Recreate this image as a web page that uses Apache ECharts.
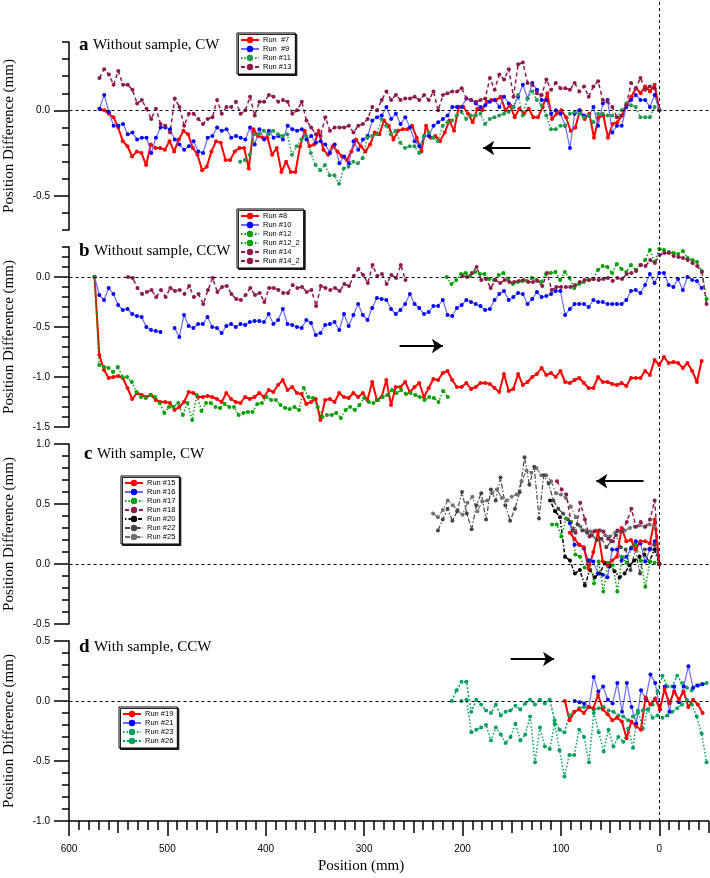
<!DOCTYPE html>
<html><head><meta charset="utf-8">
<script src="https://cdn.jsdelivr.net/npm/echarts@6/dist/echarts.min.js"></script>
<style>html,body{margin:0;padding:0;background:#fff}#c{width:710px;height:878px}</style>
</head><body><div id="c"></div>
<script>
// ---------- DATA (positions in mm, sampled evenly between the given start/end) ----------
const xTickLabels = [600, 500, 400, 300, 200, 100, 0];

// Panel a: Without sample, CW
const a_run7_range = [569, 0];
const a_run7 = [0.01,0.00,-0.02,-0.04,-0.10,-0.18,-0.21,-0.27,-0.24,-0.25,-0.32,-0.20,-0.22,-0.22,-0.23,-0.18,-0.24,-0.17,-0.12,-0.14,-0.22,-0.26,-0.35,-0.33,-0.24,-0.18,-0.19,-0.29,-0.29,-0.24,-0.22,-0.22,-0.34,-0.11,-0.15,-0.16,-0.16,-0.26,-0.22,-0.36,-0.30,-0.36,-0.36,-0.21,-0.12,-0.21,-0.20,-0.12,-0.23,-0.26,-0.21,-0.24,-0.27,-0.29,-0.24,-0.17,
 -0.21,-0.24,-0.20,-0.13,-0.14,-0.06,-0.09,-0.17,-0.12,-0.11,-0.11,-0.09,-0.16,-0.24,-0.09,-0.16,-0.15,-0.18,-0.13,-0.06,-0.12,0.02,0.02,-0.02,-0.07,0.01,0.00,0.05,0.06,0.06,0.08,0.00,0.03,-0.04,0.01,-0.02,0.01,-0.04,-0.04,0.02,0.10,-0.05,-0.02,0.00,-0.04,-0.12,-0.10,0.00,-0.05,-0.02,-0.16,-0.04,-0.03,-0.16,-0.08,-0.07,-0.03,0.03,0.08,0.13,0.10,0.14,0.11,0.15,0.00];
const a_run9_range = [569, 0];
const a_run9 = [0.01,0.09,-0.01,-0.09,-0.09,-0.08,-0.14,-0.13,-0.17,-0.16,-0.16,-0.25,-0.16,-0.10,-0.10,-0.11,-0.17,-0.20,-0.23,-0.21,-0.18,-0.24,-0.25,-0.16,-0.15,-0.10,-0.12,-0.11,-0.16,-0.15,-0.16,-0.17,-0.10,-0.20,-0.11,-0.17,-0.12,-0.16,-0.15,-0.17,-0.09,-0.11,-0.12,-0.11,-0.17,-0.15,-0.19,-0.18,-0.20,-0.25,-0.20,-0.31,-0.27,-0.31,-0.18,-0.23,
 -0.17,-0.15,-0.06,-0.04,-0.03,0.02,-0.05,-0.02,-0.08,-0.04,-0.10,-0.18,-0.21,-0.15,-0.15,-0.09,-0.07,-0.05,-0.03,0.02,0.02,0.02,0.07,0.06,0.04,0.02,0.03,0.05,0.06,0.02,0.08,0.04,0.02,0.08,0.15,0.07,0.16,0.12,0.06,0.06,-0.02,0.00,-0.02,-0.09,-0.22,-0.02,0.00,-0.03,-0.03,0.02,-0.09,0.04,0.06,-0.13,-0.09,-0.09,0.02,0.06,0.09,0.06,0.06,0.02,0.09,0.00];
const a_run11_range = [426, 0];
const a_run11 = [-0.30,-0.29,-0.26,-0.14,-0.14,-0.12,-0.14,-0.12,-0.14,-0.15,-0.14,-0.26,-0.21,-0.17,-0.15,-0.25,-0.32,-0.35,-0.32,-0.38,-0.38,-0.43,-0.34,-0.33,-0.30,-0.31,
 -0.28,-0.16,-0.15,-0.14,-0.05,-0.09,-0.14,-0.12,-0.19,-0.22,-0.21,-0.21,-0.25,-0.15,-0.13,-0.16,-0.18,-0.09,-0.07,-0.06,-0.03,-0.01,-0.05,-0.03,-0.03,-0.02,-0.08,-0.05,-0.04,-0.03,-0.02,-0.01,0.02,0.09,-0.03,0.07,0.11,0.06,0.03,-0.03,-0.11,-0.11,-0.09,-0.09,-0.02,-0.01,-0.02,-0.04,-0.03,-0.07,-0.02,-0.02,-0.03,-0.03,-0.04,0.00,0.04,0.03,0.02,-0.04,-0.04,-0.04,0.02,0.00];
const a_run13_range = [569, 0];
const a_run13 = [0.19,0.24,0.21,0.15,0.23,0.15,0.15,0.12,0.04,0.06,0.01,-0.05,0.01,-0.08,-0.09,-0.13,0.07,0.02,-0.09,-0.02,-0.02,-0.05,-0.08,-0.05,-0.04,0.06,-0.02,0.02,0.02,0.05,-0.02,0.00,0.08,-0.03,0.05,0.05,0.09,0.08,0.05,0.06,0.05,-0.02,0.00,0.05,-0.06,-0.10,-0.14,-0.15,-0.04,-0.12,-0.10,-0.10,-0.10,-0.09,-0.13,-0.09,
 -0.08,-0.05,0.02,0.00,0.06,0.11,0.06,0.09,0.06,0.07,0.07,0.08,0.06,0.09,0.06,0.11,0.00,0.09,0.10,0.11,0.11,0.13,0.07,0.06,0.05,0.06,0.07,0.19,0.12,0.21,0.18,0.24,0.08,0.27,0.28,0.16,0.15,0.10,0.09,0.18,0.12,0.16,0.13,0.13,0.12,0.16,0.11,0.14,0.08,0.14,0.17,0.06,0.05,0.02,-0.04,-0.03,0.03,0.16,0.13,0.19,0.12,0.14,0.13,0.00];

// Panel b: Without sample, CCW
const b_run8_range = [574, -43];
const b_run8 = [0,-0.78,-0.93,-1.01,-1.00,-0.99,-1.01,-1.11,-1.22,-1.16,-1.18,-1.20,-1.18,-1.23,-1.25,-1.25,-1.26,-1.33,-1.30,-1.25,-1.15,-1.16,-1.20,-1.20,-1.19,-1.20,-1.22,-1.25,-1.16,-1.22,-1.25,-1.26,-1.20,-1.22,-1.20,-1.16,-1.20,-1.13,-1.15,-1.08,-1.03,-1.13,-1.10,-1.16,-1.17,-1.27,-1.25,-1.22,-1.43,-1.23,-1.22,-1.25,-1.16,-1.20,-1.21,-1.16,-1.20,
 -1.16,-1.23,-1.05,-1.23,-1.20,-1.03,-1.28,-1.10,-1.10,-1.05,-1.15,-1.10,-1.06,-1.20,-1.11,-1.02,-1.03,-0.96,-0.94,-1.03,-1.10,-1.10,-1.06,-1.12,-1.10,-1.06,-1.06,-1.07,-1.11,-1.15,-0.97,-1.14,-1.12,-0.97,-1.08,-1.05,-1.00,-0.97,-0.91,-0.98,-0.96,-1.00,-0.94,-1.05,-1.06,-1.03,-1.01,-1.06,-1.11,-1.11,-1.00,-1.05,-1.05,-1.07,-1.08,-1.06,-1.09,-1.01,-1.01,-1.01,-0.94,-0.98,-0.83,-0.88,-0.80,-0.86,-0.85,-0.86,-0.91,-0.86,-0.94,-1.05,-0.84];
const b_run10_range = [574, -43];
const b_run10 = [0,-0.18,-0.23,-0.11,-0.17,-0.28,-0.33,-0.32,-0.37,-0.39,-0.40,-0.50,-0.53,-0.54,-0.55,null,null,-0.51,-0.60,-0.38,-0.49,-0.51,-0.47,-0.47,-0.40,-0.50,-0.51,-0.56,-0.49,-0.47,-0.50,-0.47,-0.48,-0.45,-0.44,-0.44,-0.45,-0.37,-0.47,-0.43,-0.32,-0.47,-0.48,-0.50,-0.51,-0.43,-0.46,-0.58,-0.56,-0.48,-0.47,-0.45,-0.53,-0.37,-0.49,-0.38,-0.27,
 -0.38,-0.43,-0.31,-0.21,-0.22,-0.23,-0.32,-0.37,-0.33,-0.27,-0.17,-0.27,-0.31,-0.37,-0.35,-0.29,-0.29,-0.23,-0.38,-0.39,-0.31,-0.28,-0.23,-0.25,-0.27,-0.29,-0.33,-0.32,-0.23,-0.17,-0.14,-0.23,-0.20,-0.16,-0.17,-0.27,-0.22,-0.15,-0.20,-0.19,-0.17,-0.14,-0.14,-0.38,-0.32,-0.27,-0.27,-0.27,-0.30,-0.23,-0.25,-0.25,-0.27,-0.27,-0.27,-0.27,-0.23,-0.14,-0.13,-0.16,-0.08,0.03,-0.06,0.04,0.04,-0.08,-0.10,-0.02,-0.13,0.00,-0.03,-0.04,-0.11];
const b_run12_range = [574, 215];
const b_run12 = [0,-0.88,-0.90,-0.91,-0.95,-0.90,-1.00,-1.00,-1.05,-1.15,-1.20,-1.21,-1.18,-1.20,-1.26,-1.36,-1.30,-1.30,-1.26,-1.38,-1.26,-1.43,-1.18,-1.34,-1.26,-1.26,-1.30,-1.31,-1.27,-1.30,-1.30,-1.38,-1.36,-1.35,-1.35,-1.27,-1.26,-1.20,-1.23,-1.23,-1.28,-1.31,-1.32,-1.30,-1.33,-1.11,-1.20,-1.21,-1.30,-1.40,-1.38,-1.38,-1.36,-1.41,-1.33,-1.30,-1.33,-1.28,
 -1.21,-1.25,-1.26,-1.23,-1.20,-1.18,-1.13,-1.16,-1.13,-1.17,-1.16,-1.18,-1.20,-1.23,-1.20,-1.21,-1.25,-1.14,-1.20];
const b_run12_2_range = [216, -48];
const b_run12_2 = [0.00,-0.07,-0.03,0.03,0.04,0.01,0.05,0.03,0.03,-0.02,-0.03,0.02,0.04,-0.02,-0.07,-0.05,-0.04,-0.04,-0.01,-0.03,-0.05,0.03,0.04,0.05,-0.03,0.05,-0.01,-0.11,-0.07,-0.05,-0.03,-0.02,0.07,0.11,0.10,0.04,0.13,0.08,0.05,0.12,0.07,0.12,0.17,0.27,0.15,0.28,0.27,0.25,0.24,0.23,0.26,0.19,0.17,0.15,0.06,-0.22];
const b_run14_range = [540, 258];
const b_run14 = [0.00,-0.01,-0.11,-0.17,-0.15,-0.13,-0.20,-0.13,-0.20,-0.11,-0.14,-0.13,-0.17,-0.09,-0.20,-0.17,-0.27,-0.13,-0.01,-0.15,-0.10,-0.09,-0.17,-0.22,-0.23,-0.18,-0.11,-0.18,-0.16,-0.25,-0.11,-0.11,-0.13,-0.16,-0.16,-0.08,-0.11,-0.10,-0.15,-0.13,-0.29,-0.09,-0.11,-0.13,-0.11,-0.14,-0.07,-0.09,0.01,0.08,0.02,-0.06,0.12,0.01,0.03,-0.07,0.02,-0.01,0.12,-0.03];
const b_run14_2_range = [200, -48];
const b_run14_2 = [0.01,0.00,0.04,0.10,-0.03,-0.02,-0.11,-0.03,-0.06,-0.03,-0.05,-0.05,-0.04,-0.03,-0.05,-0.05,-0.04,-0.09,0.04,-0.13,-0.10,-0.10,-0.10,-0.10,-0.08,-0.05,-0.03,-0.03,-0.02,-0.03,-0.02,-0.01,-0.04,-0.01,-0.02,0.03,0.04,0.06,0.12,0.11,0.17,0.14,0.22,0.24,0.24,0.21,0.20,0.19,0.17,0.14,0.11,0.05,-0.27];

// Panel c: With sample, CW
const c_run15_range = [91, 0];
const c_run15 = [0.26,0.21,0.16,0.14,-0.04,0.10,0.27,0.02,-0.01,0.03,0.06,0.30,0.19,0.20,0.12,0.19,0.19,0.17,0.37,0.00];
const c_run16_range = [91, 0];
const c_run16 = [0.34,0.16,0.16,0.13,0.03,0.02,-0.08,-0.09,-0.11,0.12,0.12,0.03,0.06,0.13,0.19,0.17,0.02,0.12,0.19,0.00];
const c_run17_range = [109, 0];
const c_run17 = [0.33,0.33,0.23,0.38,0.35,0.08,0.06,-0.03,0.03,-0.16,0.02,-0.23,0.01,-0.01,-0.23,0.06,0.01,0.14,0.16,0.03,-0.19,0.02,0.01,0.00];
const c_run18_range = [104, 0];
const c_run18 = [0.69,0.62,0.58,0.35,0.26,0.51,0.37,0.23,0.27,0.28,0.27,0.21,0.19,0.28,0.27,0.35,0.46,0.31,0.35,0.31,0.37,0.53,0.00];
const c_run20_range = [111, 0];
const c_run20 = [0.53,0.44,0.39,0.06,0.03,-0.08,-0.05,-0.18,-0.05,-0.11,-0.08,0.01,-0.02,-0.06,-0.11,-0.08,-0.01,0.03,0.06,0.08,0.02,0.12,0.00];
const c_run22_range = [225, 0];
const c_run22 = [0.28,0.37,0.46,0.36,0.44,0.60,0.42,0.29,0.49,0.59,0.37,0.62,0.53,0.72,0.49,0.36,0.46,0.60,0.89,0.66,0.81,0.38,0.74,0.67,0.53,0.46,0.42,0.37,0.28,0.33,0.28,0.26,0.24,0.20,0.21,0.14,0.19,0.24,0.14,0.12,-0.05,0.12,-0.08,0.12,0.13,0.16,0.00];
const c_run25_range = [230, 0];
const c_run25 = [0.42,0.39,0.45,0.53,0.49,0.45,0.41,0.51,0.56,0.44,0.52,0.53,0.59,0.62,0.55,0.53,0.56,0.58,0.69,0.78,0.76,0.80,0.74,0.74,0.69,0.59,0.58,0.55,0.48,0.39,0.31,0.28,0.27,0.28,0.28,0.24,0.23,0.26,0.27,0.28,0.30,0.31,0.32,0.31,0.33,0.31,0.00];

// Panel d: With sample, CCW
const d_run19_range = [96, -44];
const d_run19 = [0,-0.16,-0.09,-0.07,-0.10,-0.05,-0.06,0.05,-0.07,-0.11,-0.16,-0.14,-0.17,-0.31,-0.17,-0.21,-0.24,0.03,-0.03,0.02,-0.07,0.10,-0.02,0.08,0.01,0.08,-0.05,0.01,-0.03,-0.10];
const d_run21_range = [86, -44];
const d_run21 = [0,-0.01,-0.02,-0.05,0.20,0.08,0.12,0.01,-0.02,0.15,-0.09,0.15,-0.05,-0.19,0.09,0.02,0.22,0.15,-0.07,0.12,-0.09,0.12,-0.01,0.12,0.29,0.11,0.13,0.14];
const d_run23_range = [201, -48];
const d_run23 = [0.00,0.01,-0.26,-0.24,-0.22,-0.20,-0.33,-0.22,-0.28,-0.35,-0.30,-0.19,-0.33,-0.28,-0.13,-0.51,-0.22,-0.38,-0.40,-0.19,-0.41,-0.63,-0.45,-0.45,-0.24,-0.30,-0.51,-0.10,-0.26,-0.42,-0.24,-0.38,-0.30,-0.34,-0.23,-0.39,-0.08,-0.23,-0.07,-0.14,-0.12,-0.14,-0.12,-0.09,-0.06,-0.03,0.01,-0.03,-0.13,-0.27,-0.51];
const d_run26_range = [211, -48];
const d_run26 = [0,0.09,0.16,0.16,-0.09,0.01,-0.03,-0.08,-0.10,-0.03,-0.12,-0.09,-0.08,-0.04,-0.07,-0.02,0.01,-0.03,0.01,-0.02,0.01,-0.16,-0.24,-0.26,-0.12,-0.09,-0.06,-0.05,-0.05,-0.07,-0.06,-0.05,-0.08,-0.09,-0.12,-0.13,-0.16,-0.13,-0.10,-0.08,-0.07,-0.03,0.08,0.21,0.12,0.12,0.21,0.15,0.11,0.09,0.13,0.14,0.15];

// Direction arrows [tailX, headX, y]
const arrowA = [131, 179, -0.22];
const arrowB = [264, 220, -0.69];
const arrowC = [16, 64, 0.69];
const arrowD = [151, 107, 0.35];

// ---------- CHART ----------
const SERIF = 'Liberation Serif', SANS = 'Liberation Sans';
const RED = '#ff0000', BLUE = '#0000ff', BLUEL = '#6a6aff', MAR = '#8e1a4c';
function pts(range, ys) {
  const n = ys.length;
  return ys.map((y, i) => [range[0] + (range[1] - range[0]) * i / (n - 1), y === null ? '-' : y]);
}
function mk(name, range, ys, g, color, lineColor, width, type) {
  return {
    name, type: 'line', xAxisIndex: g, yAxisIndex: g, data: pts(range, ys),
    symbol: 'circle', symbolSize: 4, showAllSymbol: true, connectNulls: false,
    lineStyle: { color: lineColor || color, width, type },
    itemStyle: { color }, animation: false, silent: true,
    emphasis: { disabled: true }
  };
}
const zeroLine = { silent: true, symbol: 'none', animation: false, label: { show: false },
  lineStyle: { color: '#000', width: 1, type: [3, 3] }, data: [{ yAxis: 0 }] };
function arrowLine(a) {
  return { silent: true, symbol: ['none', 'arrow'], symbolSize: 11, animation: false, label: { show: false },
    lineStyle: { color: '#000', width: 2, type: 'solid' },
    itemStyle: { color: '#000' },
    data: [[{ coord: [a[0], a[2]], symbol: 'none' }, { coord: [a[1], a[2]], symbol: 'arrow', symbolSize: 11 }]] };
}

const DOT = [1.5, 2], DASH = [4, 3], DASHDOT = [5, 2, 1.5, 2], BLACKDOT = [1.5, 2, 4, 2];
const GREEN_A = '#1f9a4e', GREEN_B = '#00a000', GREEN_D = '#00a060';

const series = [
  mk('Run  #7', a_run7_range, a_run7, 0, RED, null, 2, 'solid'),
  mk('Run  #9', a_run9_range, a_run9, 0, BLUE, BLUEL, 1.2, 'solid'),
  mk('Run #11', a_run11_range, a_run11, 0, GREEN_A, null, 1.5, DOT),
  mk('Run #13', a_run13_range, a_run13, 0, MAR, null, 1.5, DASH),
  mk('Run #8', b_run8_range, b_run8, 1, RED, null, 2, 'solid'),
  mk('Run #10', b_run10_range, b_run10, 1, BLUE, BLUEL, 1.2, 'solid'),
  mk('Run #12', b_run12_range, b_run12, 1, GREEN_B, null, 1.5, DOT),
  mk('Run #12_2', b_run12_2_range, b_run12_2, 1, GREEN_B, null, 1.5, DOT),
  mk('Run #14', b_run14_range, b_run14, 1, MAR, null, 1.5, DASH),
  mk('Run #14_2', b_run14_2_range, b_run14_2, 1, MAR, null, 1.5, DASH),
  mk('Run #25', c_run25_range, c_run25, 2, '#707070', null, 1.2, DASHDOT),
  mk('Run #22', c_run22_range, c_run22, 2, '#454545', null, 1.2, DASHDOT),
  mk('Run #20', c_run20_range, c_run20, 2, '#000000', null, 1.5, BLACKDOT),
  mk('Run #18', c_run18_range, c_run18, 2, MAR, null, 1.5, DASH),
  mk('Run #17', c_run17_range, c_run17, 2, GREEN_B, null, 1.5, DOT),
  mk('Run #16', c_run16_range, c_run16, 2, BLUE, BLUEL, 1.2, 'solid'),
  mk('Run #15', c_run15_range, c_run15, 2, RED, null, 2, 'solid'),
  mk('Run #23', d_run23_range, d_run23, 3, GREEN_D, null, 1.5, DOT),
  mk('Run #26', d_run26_range, d_run26, 3, GREEN_D, null, 1.5, [2, 2]),
  mk('Run #21', d_run21_range, d_run21, 3, BLUE, BLUEL, 1.2, 'solid'),
  mk('Run #19', d_run19_range, d_run19, 3, RED, null, 2, 'solid')
];
// zero lines & arrows
series[0].markLine = zeroLine; series[1].markLine = arrowLine(arrowA);
series[4].markLine = zeroLine; series[5].markLine = arrowLine(arrowB);
series[10].markLine = zeroLine; series[11].markLine = arrowLine(arrowC);
series[17].markLine = zeroLine; series[18].markLine = arrowLine(arrowD);
// vertical x = 0 line over the whole figure
series.push({ type: 'line', xAxisIndex: 4, yAxisIndex: 4, data: [], silent: true, animation: false,
  markLine: { silent: true, symbol: 'none', animation: false, label: { show: false },
    lineStyle: { color: '#000', width: 1, type: [3, 3] }, data: [{ xAxis: 0 }] } });

const tickStyle = { color: '#000', width: 1.5 };
const noLine = { show: false, onZero: false };
const xBase = { type: 'value', min: -50, max: 600, inverse: true, splitLine: { show: false }, axisLine: noLine };
const hidX = g => ({ type: 'value', gridIndex: g, min: 0, max: 1, show: false, axisLine: noLine });
const hidY = g => ({ type: 'value', gridIndex: g, min: 0, max: 1, show: false, axisLine: noLine });

// Panels: main y range and the span of the long (0.5) ticks
const panels = [
  { min: -0.7, max: 0.4, top: 42, h: 188, maj: [-0.5, 0] },
  { min: -1.5, max: 0.3, top: 247, h: 180, maj: [-1.5, 0] },
  { min: -0.5, max: 1.0, top: 444, h: 180, maj: [-0.5, 1.0] },
  { min: -1.0, max: 0.5, top: 641, h: 180, maj: [-1.0, 0.5] }
];
const LEFT = 69, RIGHT = 1.5, WIDTH = 710 - LEFT - RIGHT;
const G = o => Object.assign({ outerBoundsMode: 'none', containLabel: false }, o);

const grid = panels.map(p => G({ left: LEFT, right: RIGHT, top: p.top, height: p.h }));
grid.push(G({ left: LEFT, right: RIGHT, top: 0, height: 821 }));           // 4: full overlay
panels.forEach(p => {                                                      // 5..8: long y ticks
  const k = p.h / (p.max - p.min);
  grid.push(G({ left: LEFT, width: 10, top: p.top + (p.max - p.maj[1]) * k, height: (p.maj[1] - p.maj[0]) * k }));
});
grid.push(G({ left: LEFT, width: WIDTH * 600 / 650, top: 641, height: 180 })); // 9: long x ticks

const xAxis = [
  Object.assign({}, xBase, { gridIndex: 0, show: false }),
  Object.assign({}, xBase, { gridIndex: 1, show: false }),
  Object.assign({}, xBase, { gridIndex: 2, show: false }),
  Object.assign({}, xBase, { gridIndex: 3, position: 'bottom', interval: 50,
    axisLine: { show: true, onZero: false, lineStyle: tickStyle },
    axisTick: { show: true, length: 12, lineStyle: tickStyle },
    minorTick: { show: true, splitNumber: 5, length: 9, lineStyle: tickStyle },
    minorSplitLine: { show: false },
    axisLabel: { margin: 23, fontSize: 10, color: '#000', fontFamily: SANS,
      formatter: v => xTickLabels.indexOf(Math.round(v)) >= 0 ? String(Math.round(v)) : '' } }),
  Object.assign({}, xBase, { gridIndex: 4, show: false }),
  hidX(5), hidX(6), hidX(7), hidX(8),
  { type: 'value', gridIndex: 9, min: 0, max: 600, inverse: true, interval: 100, position: 'bottom',
    splitLine: { show: false }, axisLine: noLine, axisLabel: { show: false },
    axisTick: { show: true, length: 15, lineStyle: tickStyle } }
];

const yAxis = panels.map((p, i) => ({
  type: 'value', gridIndex: i, min: p.min, max: p.max, interval: 0.1, position: 'left',
  splitLine: { show: false },
  axisLine: { show: true, onZero: false, lineStyle: tickStyle },
  axisTick: { show: true, length: 7, lineStyle: tickStyle },
  axisLabel: { margin: 19, fontSize: 10, color: '#000', fontFamily: SANS, align: 'right',
    formatter: v => { const r = Math.round(v * 10); return r % 5 === 0 ? (r / 10).toFixed(1) : ''; } },
  name: 'Position Difference (mm)', nameLocation: 'middle', nameGap: 52,
  nameTextStyle: { fontFamily: SERIF, fontSize: 15, color: '#000' }
}));
yAxis.push(hidY(4));
panels.forEach((p, i) => {
  yAxis.push({ type: 'value', gridIndex: 5 + i, min: p.maj[0], max: p.maj[1], interval: 0.5, position: 'left',
    splitLine: { show: false }, axisLine: noLine, axisLabel: { show: false },
    axisTick: { show: true, length: 15, lineStyle: tickStyle } });
});
yAxis.push(hidY(9));

const legendBase = { orient: 'vertical', itemGap: 1, itemWidth: 18, itemHeight: 8, padding: [3, 4, 3, 3],
  borderColor: '#000', borderWidth: 1, backgroundColor: '#fff', selectedMode: false,
  shadowColor: 'rgba(0,0,0,0.85)', shadowOffsetX: 1.5, shadowOffsetY: 1.5, shadowBlur: 0,
  textStyle: { fontSize: 7.5, fontFamily: SANS, color: '#000', padding: [0, 0, 0, -1] } };
const legend = [
  Object.assign({}, legendBase, { left: 237, top: 33, data: ['Run  #7', 'Run  #9', 'Run #11', 'Run #13'] }),
  Object.assign({}, legendBase, { left: 237, top: 209, data: ['Run #8', 'Run #10', 'Run #12', 'Run #12_2', 'Run #14', 'Run #14_2'] }),
  Object.assign({}, legendBase, { left: 121, top: 476, data: ['Run #15', 'Run #16', 'Run #17', 'Run #18', 'Run #20', 'Run #22', 'Run #25'] }),
  Object.assign({}, legendBase, { left: 119, top: 707, data: ['Run #19', 'Run #21', 'Run #23', 'Run #26'] })
];

const rich = { b: { fontFamily: SERIF, fontWeight: 'bold', fontSize: 19, color: '#000' },
  n: { fontFamily: SERIF, fontWeight: 'normal', fontSize: 15, color: '#000' } };
function ttl(letter, txt, left, top) {
  return { text: '{b|' + letter + '} {n|' + txt + '}', left, top, padding: 0,
    textStyle: { fontWeight: 'normal', fontFamily: SERIF, rich } };
}
const title = [
  ttl('a', 'Without sample, CW', 79, 36),
  ttl('b', 'Without sample, CCW', 79, 242),
  ttl('c', 'With sample, CW', 84, 445),
  ttl('d', 'With sample, CCW', 79, 638),
  { text: 'Position (mm)', left: 318, top: 859, padding: 0,
    textStyle: { fontFamily: SERIF, fontSize: 15, fontWeight: 'normal', color: '#000' } }
];

const chart = echarts.init(document.getElementById('c'), null, { renderer: 'canvas' });
chart.setOption({
  animation: false, backgroundColor: '#fff',
  title, legend, grid, xAxis, yAxis, series
});
</script></body></html>
